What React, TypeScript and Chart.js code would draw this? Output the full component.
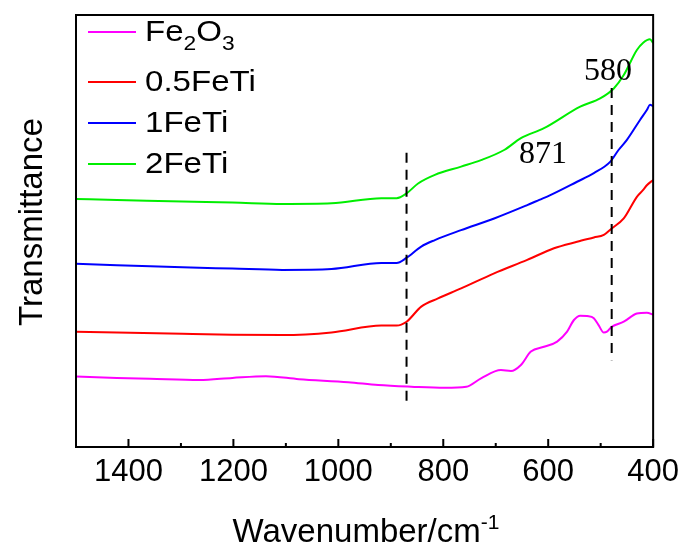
import React, { useEffect, useRef } from "react";
import { Chart, registerables } from "chart.js";

Chart.register(...registerables);

// ---- data (wavenumber in cm-1, transmittance in arbitrary offset units) ----
const fe2o3Wn = [1500, 1422, 1359, 1265, 1202, 1138, 1075, 981, 924, 861, 797, 756, 728, 690, 671, 652, 633, 608, 583, 564, 551, 539, 526, 513, 504, 494, 488, 479, 456, 431, 412, 400];
const fe2o3T = [16.3, 16.0, 15.8, 15.5, 16.0, 16.4, 15.7, 15.0, 14.35, 13.96, 13.7, 13.96, 15.9, 17.8, 17.6, 19.0, 22.1, 23.2, 24.4, 26.7, 29.4, 30.4, 30.3, 29.8, 28.2, 26.5, 26.7, 27.8, 29.0, 30.9, 31.1, 30.6];

const feTi05Wn = [1500, 1422, 1297, 1202, 1107, 1013, 918, 889, 870, 842, 810, 766, 703, 640, 589, 545, 513, 494, 479, 456, 431, 419, 412, 400];
const feTi05T = [26.7, 26.5, 26.2, 26.0, 25.9, 26.5, 28.1, 28.1, 29.0, 32.5, 34.4, 36.7, 40.2, 43.3, 46.0, 47.5, 48.5, 49.1, 50.6, 52.9, 57.9, 59.5, 60.6, 61.8];

const feTi1Wn = [1500, 1422, 1297, 1202, 1107, 1013, 918, 889, 871, 842, 816, 766, 703, 640, 617, 596, 545, 513, 482, 466, 450, 425, 412, 406, 400];
const feTi1T = [42.4, 42.1, 41.6, 41.3, 41.0, 41.2, 42.6, 42.6, 43.7, 46.4, 47.9, 50.2, 52.9, 56.0, 57.2, 58.3, 61.4, 63.4, 66.0, 68.75, 71.1, 75.7, 78.0, 79.2, 78.9];

const feTi2Wn = [1500, 1422, 1297, 1202, 1107, 1013, 918, 889, 870, 848, 816, 766, 728, 684, 652, 608, 539, 501, 475, 456, 431, 419, 406, 400];
const feTi2T = [57.4, 57.2, 56.8, 56.6, 56.25, 56.4, 57.6, 57.6, 58.7, 61.0, 63.0, 64.9, 66.4, 68.75, 71.5, 73.8, 78.8, 80.7, 83.0, 86.1, 91.9, 93.6, 94.4, 93.5];

const seriesNames = ["Fe2O3", "0.5FeTi", "1FeTi", "2FeTi"];
const seriesColors = ["#ff00ff", "#ff0000", "#0000ff", "#00ee00"];

const majorTicks = [1400, 1200, 1000, 800, 600, 400];
const minorTicks = [1300, 1100, 900, 700, 500];

// dashed marker lines: position (cm-1), label, span in y units
const markerWn = [870, 479];
const markerLabels = ["871", "580"];
const markerYFrom = [9.7, 20.1];
const markerYTo = [68.1, 83.1];

const SANS = '"Liberation Sans", Arial, sans-serif';
const SERIF = '"Liberation Serif", "Times New Roman", serif';

const toPts = (xs: number[], ys: number[]) => xs.map((x, i) => ({ x, y: ys[i] }));

function stretchText(ctx: CanvasRenderingContext2D, t: string, x: number, y: number, sx: number) {
  ctx.save();
  ctx.translate(x, y);
  ctx.scale(sx, 1);
  ctx.fillText(t, 0, 0);
  ctx.restore();
  return ctx.measureText(t).width * sx;
}

const decorPlugin = {
  id: "decor",
  afterDatasetsDraw(chart: any) {
    const ctx = chart.ctx as CanvasRenderingContext2D;
    const { left, right, top, bottom } = chart.chartArea;
    const xs = chart.scales.x;
    const ys = chart.scales.y;
    ctx.save();

    // dashed marker lines
    ctx.strokeStyle = "#000";
    ctx.lineWidth = 2;
    ctx.setLineDash([10, 7]);
    markerWn.forEach((w, i) => {
      const px = xs.getPixelForValue(w);
      ctx.beginPath();
      ctx.moveTo(px, ys.getPixelForValue(markerYTo[i]));
      ctx.lineTo(px, ys.getPixelForValue(markerYFrom[i]));
      ctx.stroke();
    });
    ctx.setLineDash([]);

    // marker labels
    ctx.fillStyle = "#000";
    ctx.font = `32px ${SERIF}`;
    ctx.textAlign = "center";
    ctx.textBaseline = "alphabetic";
    ctx.fillText(markerLabels[0], 543, 163);
    ctx.fillText(markerLabels[1], 608, 80);

    // frame
    ctx.lineWidth = 2;
    ctx.strokeStyle = "#000";
    ctx.strokeRect(left, top, right - left, bottom - top);

    // inward bottom ticks
    ctx.beginPath();
    majorTicks.forEach((v) => {
      const px = xs.getPixelForValue(v);
      ctx.moveTo(px, bottom);
      ctx.lineTo(px, bottom - 8);
    });
    minorTicks.forEach((v) => {
      const px = xs.getPixelForValue(v);
      ctx.moveTo(px, bottom);
      ctx.lineTo(px, bottom - 4);
    });
    ctx.stroke();

    // legend
    const rowsY = [32, 82, 123, 164];
    const sx = 1.14;
    ctx.textAlign = "left";
    ctx.textBaseline = "alphabetic";
    seriesNames.forEach((name, i) => {
      const y = rowsY[i];
      ctx.strokeStyle = seriesColors[i];
      ctx.lineWidth = 2;
      ctx.beginPath();
      ctx.moveTo(88, y);
      ctx.lineTo(136, y);
      ctx.stroke();
      const base = y + 8.5;
      let x = 145;
      ctx.fillStyle = "#000";
      if (name === "Fe2O3") {
        const parts: [string, boolean][] = [["Fe", false], ["2", true], ["O", false], ["3", true]];
        parts.forEach(([t, sub]) => {
          ctx.font = sub ? `20px ${SANS}` : `29px ${SANS}`;
          x += stretchText(ctx, t, x, sub ? base + 9 : base, sx);
        });
      } else {
        ctx.font = `29px ${SANS}`;
        stretchText(ctx, name, x, base, sx);
      }
    });

    // x title with superscript
    ctx.font = `33px ${SANS}`;
    const main = "Wavenumber/cm";
    const mw = ctx.measureText(main).width;
    ctx.font = `21px ${SANS}`;
    const sup = "-1";
    const sw = ctx.measureText(sup).width;
    const startX = 366 - (mw + sw) / 2;
    ctx.font = `33px ${SANS}`;
    ctx.fillText(main, startX, 542);
    ctx.font = `21px ${SANS}`;
    ctx.fillText(sup, startX + mw, 529);

    // y title
    ctx.translate(42, 222);
    ctx.rotate(-Math.PI / 2);
    ctx.font = `33px ${SANS}`;
    ctx.textAlign = "center";
    ctx.fillText("Transmittance", 0, 0);

    ctx.restore();
  },
};

export default function App() {
  const ref = useRef<HTMLCanvasElement | null>(null);
  useEffect(() => {
    if (!ref.current) return;
    const series = [
      toPts(fe2o3Wn, fe2o3T),
      toPts(feTi05Wn, feTi05T),
      toPts(feTi1Wn, feTi1T),
      toPts(feTi2Wn, feTi2T),
    ];
    const chart = new Chart(ref.current, {
      type: "line",
      data: {
        datasets: series.map((d, i) => ({
          label: seriesNames[i],
          data: d,
          borderColor: seriesColors[i],
          borderWidth: 2,
          pointRadius: 0,
          fill: false,
          cubicInterpolationMode: "monotone" as const,
        })),
      },
      options: {
        animation: false,
        responsive: false,
        devicePixelRatio: 1,
        layout: { padding: { top: 15, right: 29, left: 0, bottom: 0 } },
        plugins: { legend: { display: false }, tooltip: { enabled: false } },
        scales: {
          x: {
            type: "linear",
            reverse: true,
            min: 400,
            max: 1500,
            afterBuildTicks: (s: any) => {
              s.ticks = majorTicks.map((v) => ({ value: v }));
            },
            afterFit: (s: any) => {
              s.height = 98;
            },
            ticks: {
              color: "#000",
              font: { size: 31, family: SANS },
              padding: 7,
              maxRotation: 0,
              autoSkip: false,
              callback: (v: any) => String(v),
            },
            grid: { display: false, drawTicks: false },
            border: { display: false },
          },
          y: {
            type: "linear",
            min: 0,
            max: 100,
            afterFit: (s: any) => {
              s.width = 76;
            },
            ticks: { display: false },
            grid: { display: false, drawTicks: false },
            border: { display: false },
          },
        },
      },
      plugins: [decorPlugin],
    });
    return () => chart.destroy();
  }, []);

  return (
    <div style={{ position: "fixed", left: 0, top: 0, width: 686, height: 545, background: "#fff" }}>
      <canvas ref={ref} width={686} height={545} />
    </div>
  );
}
